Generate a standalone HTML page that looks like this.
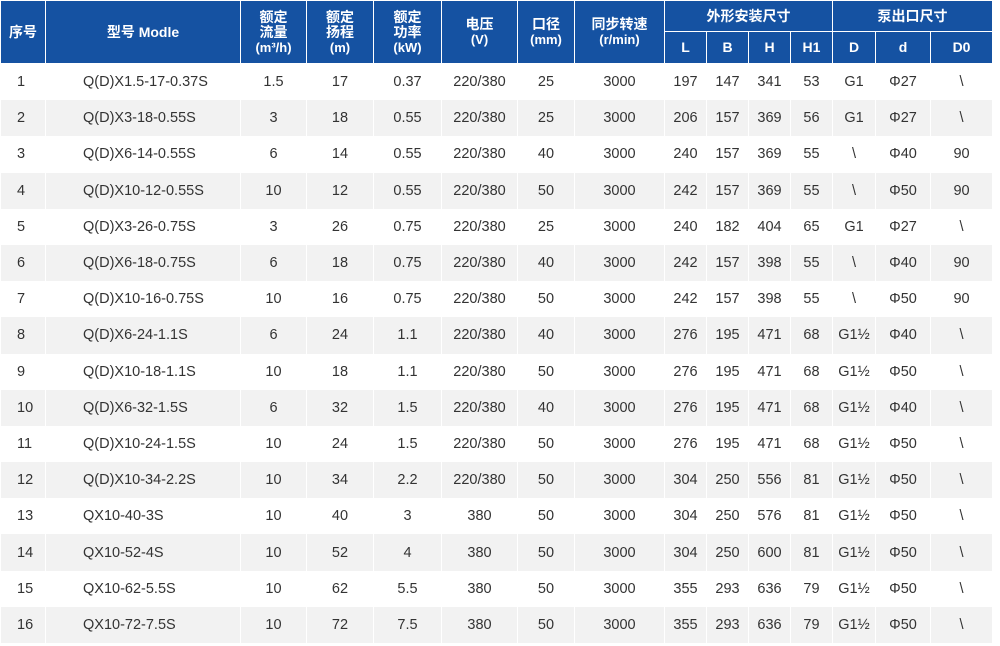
<!DOCTYPE html>
<html><head><meta charset="utf-8"><style>
body{margin:0;background:#fff;width:1000px;height:646px;overflow:hidden}
table{position:absolute;left:0;top:0;border-collapse:collapse;table-layout:fixed;width:992px;font-family:"Liberation Sans","Noto Sans CJK SC",sans-serif}
th{background:#1552a2;color:#fff;font-weight:bold;font-size:14px;line-height:15px;border:1px solid #fff;padding:0;text-align:center}
th small{font-size:13px;font-weight:bold}
td{height:36.2px;padding:0;text-align:center;font-size:14.5px;color:#333;border-left:1px solid #fff;border-right:1px solid #fff}
tbody tr:nth-child(even) td{background:#f2f2f2}
td.m{text-align:left;padding-left:37px}
td.n{text-align:left;padding-left:16px}
</style></head><body>
<table>
<colgroup><col style="width:45px"><col style="width:195px"><col style="width:66px"><col style="width:67px"><col style="width:68px"><col style="width:76px"><col style="width:57px"><col style="width:90px"><col style="width:42px"><col style="width:42px"><col style="width:42px"><col style="width:42px"><col style="width:43px"><col style="width:55px"><col style="width:62px"></colgroup>
<thead>
<tr style="height:31px"><th rowspan="2">序号</th><th rowspan="2">型号 Modle</th><th rowspan="2">额定<br>流量<br><small>(m³/h)</small></th><th rowspan="2">额定<br>扬程<br><small>(m)</small></th><th rowspan="2">额定<br>功率<br><small>(kW)</small></th><th rowspan="2">电压<br><small>(V)</small></th><th rowspan="2">口径<br><small>(mm)</small></th><th rowspan="2">同步转速<br><small>(r/min)</small></th><th colspan="4">外形安装尺寸</th><th colspan="3">泵出口尺寸</th></tr>
<tr style="height:32px"><th>L</th><th>B</th><th>H</th><th>H1</th><th>D</th><th>d</th><th>D0</th></tr>
</thead>
<tbody>
<tr><td class="n">1</td><td class="m">Q(D)X1.5-17-0.37S</td><td>1.5</td><td>17</td><td>0.37</td><td>220/380</td><td>25</td><td>3000</td><td>197</td><td>147</td><td>341</td><td>53</td><td>G1</td><td>Φ27</td><td>\</td></tr>
<tr><td class="n">2</td><td class="m">Q(D)X3-18-0.55S</td><td>3</td><td>18</td><td>0.55</td><td>220/380</td><td>25</td><td>3000</td><td>206</td><td>157</td><td>369</td><td>56</td><td>G1</td><td>Φ27</td><td>\</td></tr>
<tr><td class="n">3</td><td class="m">Q(D)X6-14-0.55S</td><td>6</td><td>14</td><td>0.55</td><td>220/380</td><td>40</td><td>3000</td><td>240</td><td>157</td><td>369</td><td>55</td><td>\</td><td>Φ40</td><td>90</td></tr>
<tr><td class="n">4</td><td class="m">Q(D)X10-12-0.55S</td><td>10</td><td>12</td><td>0.55</td><td>220/380</td><td>50</td><td>3000</td><td>242</td><td>157</td><td>369</td><td>55</td><td>\</td><td>Φ50</td><td>90</td></tr>
<tr><td class="n">5</td><td class="m">Q(D)X3-26-0.75S</td><td>3</td><td>26</td><td>0.75</td><td>220/380</td><td>25</td><td>3000</td><td>240</td><td>182</td><td>404</td><td>65</td><td>G1</td><td>Φ27</td><td>\</td></tr>
<tr><td class="n">6</td><td class="m">Q(D)X6-18-0.75S</td><td>6</td><td>18</td><td>0.75</td><td>220/380</td><td>40</td><td>3000</td><td>242</td><td>157</td><td>398</td><td>55</td><td>\</td><td>Φ40</td><td>90</td></tr>
<tr><td class="n">7</td><td class="m">Q(D)X10-16-0.75S</td><td>10</td><td>16</td><td>0.75</td><td>220/380</td><td>50</td><td>3000</td><td>242</td><td>157</td><td>398</td><td>55</td><td>\</td><td>Φ50</td><td>90</td></tr>
<tr><td class="n">8</td><td class="m">Q(D)X6-24-1.1S</td><td>6</td><td>24</td><td>1.1</td><td>220/380</td><td>40</td><td>3000</td><td>276</td><td>195</td><td>471</td><td>68</td><td>G1½</td><td>Φ40</td><td>\</td></tr>
<tr><td class="n">9</td><td class="m">Q(D)X10-18-1.1S</td><td>10</td><td>18</td><td>1.1</td><td>220/380</td><td>50</td><td>3000</td><td>276</td><td>195</td><td>471</td><td>68</td><td>G1½</td><td>Φ50</td><td>\</td></tr>
<tr><td class="n">10</td><td class="m">Q(D)X6-32-1.5S</td><td>6</td><td>32</td><td>1.5</td><td>220/380</td><td>40</td><td>3000</td><td>276</td><td>195</td><td>471</td><td>68</td><td>G1½</td><td>Φ40</td><td>\</td></tr>
<tr><td class="n">11</td><td class="m">Q(D)X10-24-1.5S</td><td>10</td><td>24</td><td>1.5</td><td>220/380</td><td>50</td><td>3000</td><td>276</td><td>195</td><td>471</td><td>68</td><td>G1½</td><td>Φ50</td><td>\</td></tr>
<tr><td class="n">12</td><td class="m">Q(D)X10-34-2.2S</td><td>10</td><td>34</td><td>2.2</td><td>220/380</td><td>50</td><td>3000</td><td>304</td><td>250</td><td>556</td><td>81</td><td>G1½</td><td>Φ50</td><td>\</td></tr>
<tr><td class="n">13</td><td class="m">QX10-40-3S</td><td>10</td><td>40</td><td>3</td><td>380</td><td>50</td><td>3000</td><td>304</td><td>250</td><td>576</td><td>81</td><td>G1½</td><td>Φ50</td><td>\</td></tr>
<tr><td class="n">14</td><td class="m">QX10-52-4S</td><td>10</td><td>52</td><td>4</td><td>380</td><td>50</td><td>3000</td><td>304</td><td>250</td><td>600</td><td>81</td><td>G1½</td><td>Φ50</td><td>\</td></tr>
<tr><td class="n">15</td><td class="m">QX10-62-5.5S</td><td>10</td><td>62</td><td>5.5</td><td>380</td><td>50</td><td>3000</td><td>355</td><td>293</td><td>636</td><td>79</td><td>G1½</td><td>Φ50</td><td>\</td></tr>
<tr><td class="n">16</td><td class="m">QX10-72-7.5S</td><td>10</td><td>72</td><td>7.5</td><td>380</td><td>50</td><td>3000</td><td>355</td><td>293</td><td>636</td><td>79</td><td>G1½</td><td>Φ50</td><td>\</td></tr>
</tbody></table>
</body></html>
